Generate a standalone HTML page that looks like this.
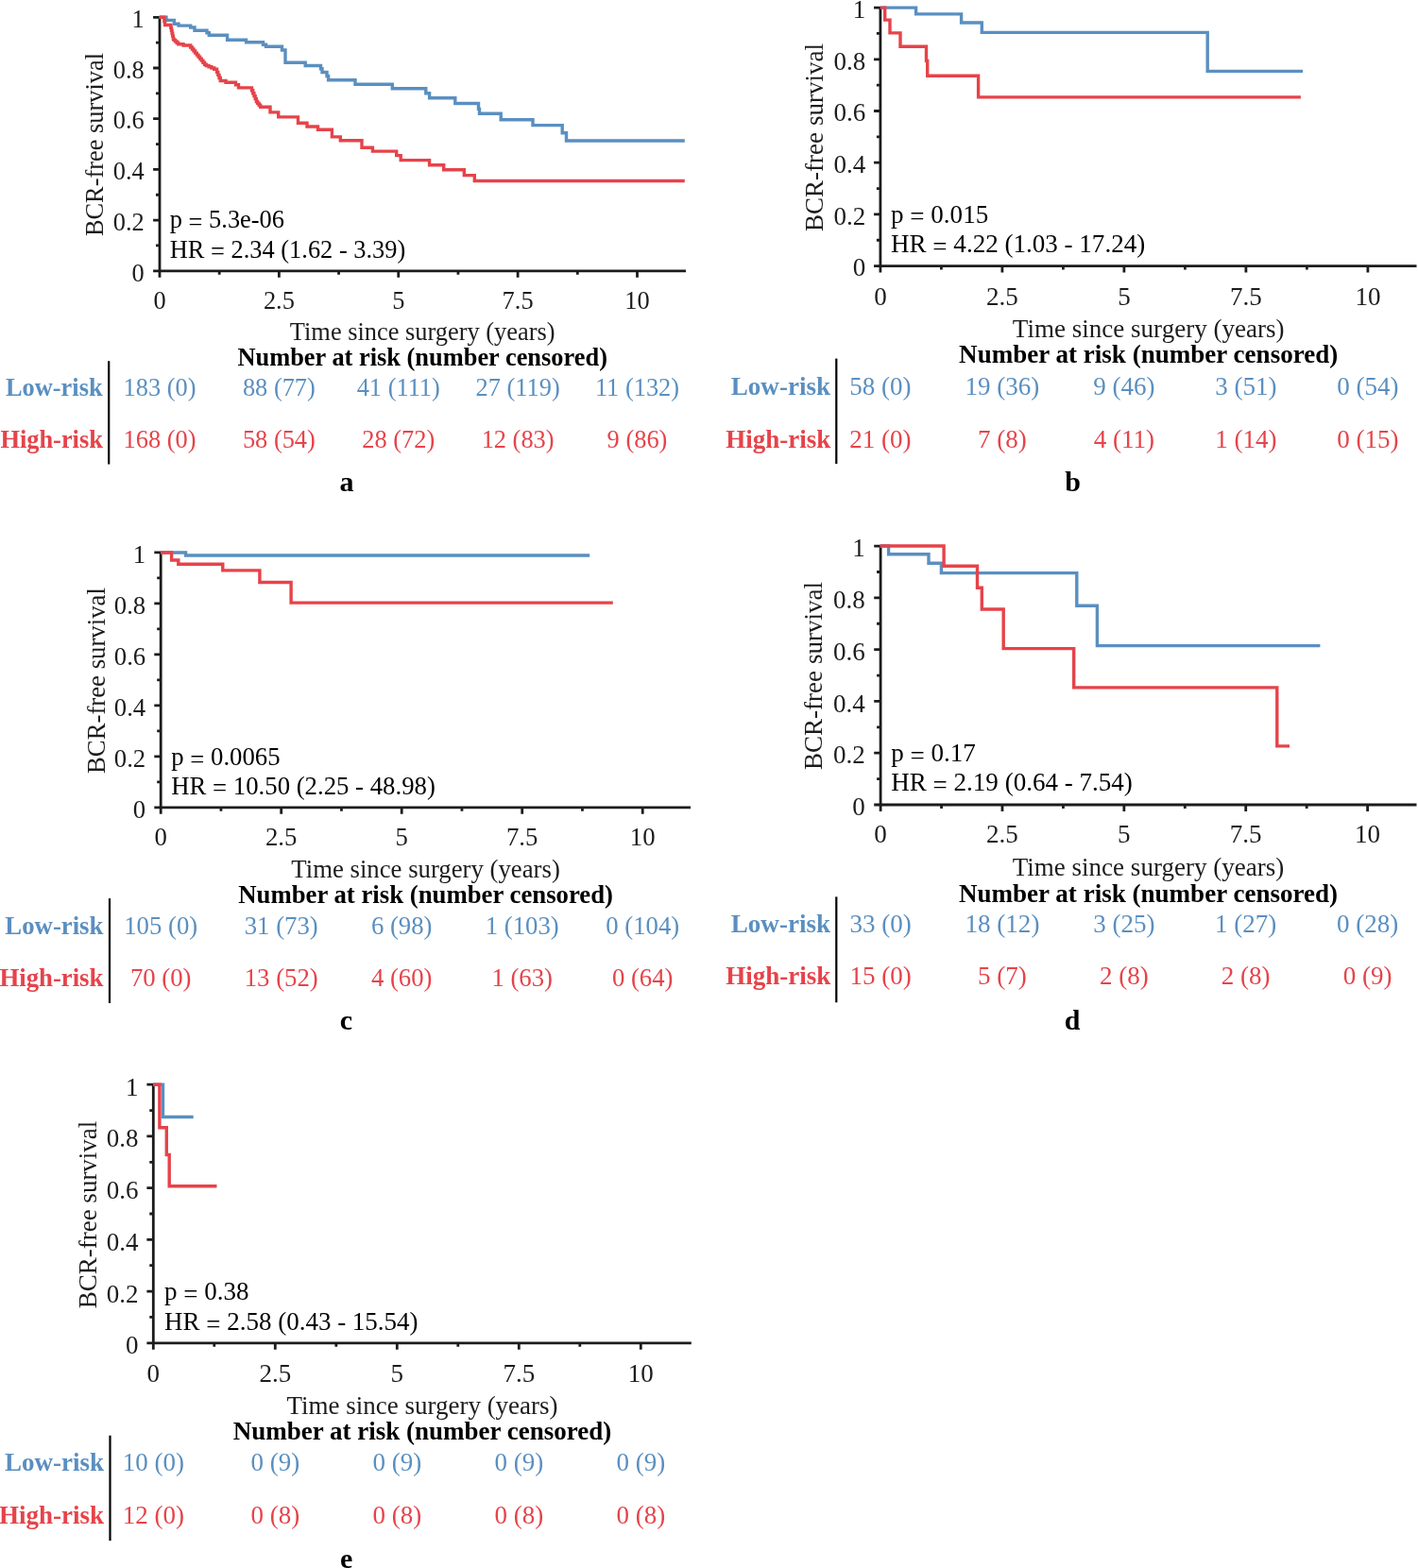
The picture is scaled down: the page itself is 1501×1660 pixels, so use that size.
<!DOCTYPE html>
<html><head><meta charset="utf-8"><title>Kaplan-Meier BCR-free survival</title>
<style>
html,body{margin:0;padding:0;background:#fff;}
body{width:1501px;height:1660px;overflow:hidden;}
svg{display:block;}
svg text{font-family:"Liberation Serif","Times New Roman",serif;}
</style></head><body>
<svg width="1501" height="1660" viewBox="0 0 1501 1660">
<rect width="1501" height="1660" fill="#fff"/>
<g id="panel-a"><path d="M169 18.3V286.8H726M162.1 286.8H169M165 259.95H169M162.1 233.1H169M165 206.25H169M162.1 179.4H169M165 152.55H169M162.1 125.7H169M165 98.85H169M162.1 72H169M165 45.15H169M162.1 18.3H169M169 286.8V293.7M232.19 286.8V290.8M295.38 286.8V293.7M358.56 286.8V290.8M421.75 286.8V293.7M484.94 286.8V290.8M548.12 286.8V293.7M611.31 286.8V290.8M674.5 286.8V293.7" fill="none" stroke="#1c1c1c" stroke-width="2.8" stroke-linecap="butt"/>
<path d="M168.4 18.3H176V21.4H184.3V25.2H189V27.1H201.7V29H206V32.2H219V34.7H221.3V37.2H240.6V42.3H260.6V44.8H278.5V47.3H281.5V49.2H298.5V53H302V66.3H323.2V69.5H339.5V72.8H341V76.5H346V80.5H347.6V84.8H376V89.2H415.3V93.7H450.8V98.7H454.6V103.8H481.8V109.5H506.5V115.4H507.5V120.3H530.2V126.8H564V132.6H595.2V140.7H599.5V149H724.8" fill="none" stroke="#5a8fc0" stroke-width="3.4" stroke-linejoin="miter"/>
<path d="M169 18.3H173.9V22.7H174.6V26.5H180.8V29.4H181.44V32.3H182.08V35.2H182.72V38.1H183.36V41H184V42.42H185.57V43.85H187.15V45.28H188.73V46.7H194.1V48H201.7V50.02H203.35V52.04H205V54.06H206.65V56.08H208.3V58.1H209.95V60.12H211.6V62.14H213.25V64.16H214.9V66.18H216.55V68.2H218.2V69.47H221.05V70.75H223.9V72.03H226.75V73.3H229.6V76.35H230.82V79.4H232.05V82.45H233.28V85.5H239V87.2H249.5V89.7H252.5V92.9H266.5V95.82H267.72V98.74H268.94V101.66H270.16V104.58H271.38V107.5H272.6V109.4H274.13V111.3H275.67V113.2H286V118.9H294.7V123.9H315.5V130.3H325V134H336.5V137.3H351.4V144.9H360.3V148.7H383V156.3H394.4V160.1H419.7V164.6H424.2V169.6H454.6V174.7H469.7V179.7H491.3V185.6H502.3V191.5H724.8" fill="none" stroke="#e6434a" stroke-width="3.4" stroke-linejoin="miter"/>
<g font-size="26.4" fill="#1c1c1c"><text x="152.7" y="297.5" text-anchor="end">0</text><text x="152.7" y="243.8" text-anchor="end">0.2</text><text x="152.7" y="190.1" text-anchor="end">0.4</text><text x="152.7" y="136.4" text-anchor="end">0.6</text><text x="152.7" y="82.7" text-anchor="end">0.8</text><text x="152.7" y="29" text-anchor="end">1</text><text x="169" y="326.7" text-anchor="middle">0</text><text x="295.38" y="326.7" text-anchor="middle">2.5</text><text x="421.75" y="326.7" text-anchor="middle">5</text><text x="548.12" y="326.7" text-anchor="middle">7.5</text><text x="674.5" y="326.7" text-anchor="middle">10</text><text x="447.2" y="360.2" text-anchor="middle">Time since surgery (years)</text><text transform="translate(108.9 153) rotate(-90)" x="0" y="0" text-anchor="middle">BCR-free survival</text><text x="179.8" y="241.3" fill="#000">p <tspan dy="2.6">=</tspan><tspan dy="-2.6"> 5.3e-06</tspan></text><text x="179.8" y="272.5" fill="#000">HR <tspan dy="2.6">=</tspan><tspan dy="-2.6"> 2.34 (1.62 - 3.39)</tspan></text></g>
<g font-size="26.4"><text x="447.2" y="386.5" text-anchor="middle" font-weight="bold" fill="#000">Number at risk (number censored)</text><text x="108.6" y="418.6" text-anchor="end" font-weight="bold" fill="#5a8fc0">Low-risk</text><text x="108.9" y="473.8" text-anchor="end" font-weight="bold" fill="#e6434a">High-risk</text><text x="169" y="418.6" text-anchor="middle" fill="#5a8fc0">183 (0)</text><text x="169" y="473.8" text-anchor="middle" fill="#e6434a">168 (0)</text><text x="295.38" y="418.6" text-anchor="middle" fill="#5a8fc0">88 (77)</text><text x="295.38" y="473.8" text-anchor="middle" fill="#e6434a">58 (54)</text><text x="421.75" y="418.6" text-anchor="middle" fill="#5a8fc0">41 (111)</text><text x="421.75" y="473.8" text-anchor="middle" fill="#e6434a">28 (72)</text><text x="548.12" y="418.6" text-anchor="middle" fill="#5a8fc0">27 (119)</text><text x="548.12" y="473.8" text-anchor="middle" fill="#e6434a">12 (83)</text><text x="674.5" y="418.6" text-anchor="middle" fill="#5a8fc0">11 (132)</text><text x="674.5" y="473.8" text-anchor="middle" fill="#e6434a">9 (86)</text></g>
<path d="M115.2 382.2V491.5" stroke="#000" stroke-width="2.2"/>
<text x="367" y="520" text-anchor="middle" font-weight="bold" font-size="30" fill="#000">a</text></g>
<g id="panel-b"><path d="M931.9 8.1V281.6H1499.5M925 281.6H931.9M927.9 254.25H931.9M925 226.9H931.9M927.9 199.55H931.9M925 172.2H931.9M927.9 144.85H931.9M925 117.5H931.9M927.9 90.15H931.9M925 62.8H931.9M927.9 35.45H931.9M925 8.1H931.9M931.9 281.6V288.5M996.4 281.6V285.6M1060.9 281.6V288.5M1125.4 281.6V285.6M1189.9 281.6V288.5M1254.4 281.6V285.6M1318.9 281.6V288.5M1383.4 281.6V285.6M1447.9 281.6V288.5" fill="none" stroke="#1c1c1c" stroke-width="2.8" stroke-linecap="butt"/>
<path d="M931.9 8.1H969.6V14.9H1017.6V24H1039.3V34.4H1278.2V75.4H1379.1" fill="none" stroke="#5a8fc0" stroke-width="3.4" stroke-linejoin="miter"/>
<path d="M931.9 8.1H936.7V21.1H942V34.9H953V49.3H980.5V64.4H981.7V80.2H1035.6V102.9H1376.9" fill="none" stroke="#e6434a" stroke-width="3.4" stroke-linejoin="miter"/>
<g font-size="27.05" fill="#1c1c1c"><text x="916.2" y="292.34" text-anchor="end">0</text><text x="916.2" y="237.64" text-anchor="end">0.2</text><text x="916.2" y="182.94" text-anchor="end">0.4</text><text x="916.2" y="128.24" text-anchor="end">0.6</text><text x="916.2" y="73.54" text-anchor="end">0.8</text><text x="916.2" y="18.84" text-anchor="end">1</text><text x="931.9" y="322.7" text-anchor="middle">0</text><text x="1060.9" y="322.7" text-anchor="middle">2.5</text><text x="1189.9" y="322.7" text-anchor="middle">5</text><text x="1318.9" y="322.7" text-anchor="middle">7.5</text><text x="1447.9" y="322.7" text-anchor="middle">10</text><text x="1215.7" y="357" text-anchor="middle">Time since surgery (years)</text><text transform="translate(870.7 145.5) rotate(-90)" x="0" y="0" text-anchor="middle">BCR-free survival</text><text x="943" y="235.8" fill="#000">p <tspan dy="2.6">=</tspan><tspan dy="-2.6"> 0.015</tspan></text><text x="943" y="267.1" fill="#000">HR <tspan dy="2.6">=</tspan><tspan dy="-2.6"> 4.22 (1.03 - 17.24)</tspan></text></g>
<g font-size="27.05"><text x="1215.7" y="384" text-anchor="middle" font-weight="bold" fill="#000">Number at risk (number censored)</text><text x="879" y="417.6" text-anchor="end" font-weight="bold" fill="#5a8fc0">Low-risk</text><text x="879.4" y="473.5" text-anchor="end" font-weight="bold" fill="#e6434a">High-risk</text><text x="931.9" y="417.6" text-anchor="middle" fill="#5a8fc0">58 (0)</text><text x="931.9" y="473.5" text-anchor="middle" fill="#e6434a">21 (0)</text><text x="1060.9" y="417.6" text-anchor="middle" fill="#5a8fc0">19 (36)</text><text x="1060.9" y="473.5" text-anchor="middle" fill="#e6434a">7 (8)</text><text x="1189.9" y="417.6" text-anchor="middle" fill="#5a8fc0">9 (46)</text><text x="1189.9" y="473.5" text-anchor="middle" fill="#e6434a">4 (11)</text><text x="1318.9" y="417.6" text-anchor="middle" fill="#5a8fc0">3 (51)</text><text x="1318.9" y="473.5" text-anchor="middle" fill="#e6434a">1 (14)</text><text x="1447.9" y="417.6" text-anchor="middle" fill="#5a8fc0">0 (54)</text><text x="1447.9" y="473.5" text-anchor="middle" fill="#e6434a">0 (15)</text></g>
<path d="M885.3 379.6V491" stroke="#000" stroke-width="2.2"/>
<text x="1135.6" y="519.5" text-anchor="middle" font-weight="bold" font-size="30" fill="#000">b</text></g>
<g id="panel-c"><path d="M170.2 584.8V854.8H731M163.3 854.8H170.2M166.2 827.8H170.2M163.3 800.8H170.2M166.2 773.8H170.2M163.3 746.8H170.2M166.2 719.8H170.2M163.3 692.8H170.2M166.2 665.8H170.2M163.3 638.8H170.2M166.2 611.8H170.2M163.3 584.8H170.2M170.2 854.8V861.7M233.95 854.8V858.8M297.7 854.8V861.7M361.45 854.8V858.8M425.2 854.8V861.7M488.95 854.8V858.8M552.7 854.8V861.7M616.45 854.8V858.8M680.2 854.8V861.7" fill="none" stroke="#1c1c1c" stroke-width="2.8" stroke-linecap="butt"/>
<path d="M170.2 585H196.6V588H624.2" fill="none" stroke="#5a8fc0" stroke-width="3.4" stroke-linejoin="miter"/>
<path d="M170.2 585H181.6V593H188.8V597.3H235.8V603.9H274.9V616.5H308.1V638.1H648.8" fill="none" stroke="#e6434a" stroke-width="3.4" stroke-linejoin="miter"/>
<g font-size="26.75" fill="#1c1c1c"><text x="154.2" y="866.18" text-anchor="end">0</text><text x="154.2" y="812.18" text-anchor="end">0.2</text><text x="154.2" y="758.18" text-anchor="end">0.4</text><text x="154.2" y="704.18" text-anchor="end">0.6</text><text x="154.2" y="650.18" text-anchor="end">0.8</text><text x="154.2" y="596.18" text-anchor="end">1</text><text x="170.2" y="895.4" text-anchor="middle">0</text><text x="297.7" y="895.4" text-anchor="middle">2.5</text><text x="425.2" y="895.4" text-anchor="middle">5</text><text x="552.7" y="895.4" text-anchor="middle">7.5</text><text x="680.2" y="895.4" text-anchor="middle">10</text><text x="450.6" y="928.9" text-anchor="middle">Time since surgery (years)</text><text transform="translate(110.7 720.6) rotate(-90)" x="0" y="0" text-anchor="middle">BCR-free survival</text><text x="181.2" y="809.9" fill="#000">p <tspan dy="2.6">=</tspan><tspan dy="-2.6"> 0.0065</tspan></text><text x="181.2" y="840.7" fill="#000">HR <tspan dy="2.6">=</tspan><tspan dy="-2.6"> 10.50 (2.25 - 48.98)</tspan></text></g>
<g font-size="26.75"><text x="450.6" y="955.7" text-anchor="middle" font-weight="bold" fill="#000">Number at risk (number censored)</text><text x="109.4" y="988.6" text-anchor="end" font-weight="bold" fill="#5a8fc0">Low-risk</text><text x="109.4" y="1043.5" text-anchor="end" font-weight="bold" fill="#e6434a">High-risk</text><text x="170.2" y="988.6" text-anchor="middle" fill="#5a8fc0">105 (0)</text><text x="170.2" y="1043.5" text-anchor="middle" fill="#e6434a">70 (0)</text><text x="297.7" y="988.6" text-anchor="middle" fill="#5a8fc0">31 (73)</text><text x="297.7" y="1043.5" text-anchor="middle" fill="#e6434a">13 (52)</text><text x="425.2" y="988.6" text-anchor="middle" fill="#5a8fc0">6 (98)</text><text x="425.2" y="1043.5" text-anchor="middle" fill="#e6434a">4 (60)</text><text x="552.7" y="988.6" text-anchor="middle" fill="#5a8fc0">1 (103)</text><text x="552.7" y="1043.5" text-anchor="middle" fill="#e6434a">1 (63)</text><text x="680.2" y="988.6" text-anchor="middle" fill="#5a8fc0">0 (104)</text><text x="680.2" y="1043.5" text-anchor="middle" fill="#e6434a">0 (64)</text></g>
<path d="M116 951.1V1062" stroke="#000" stroke-width="2.2"/>
<text x="366.5" y="1089.5" text-anchor="middle" font-weight="bold" font-size="30" fill="#000">c</text></g>
<g id="panel-d"><path d="M932.1 578.1V852H1499.5M925.2 852H932.1M928.1 824.61H932.1M925.2 797.22H932.1M928.1 769.83H932.1M925.2 742.44H932.1M928.1 715.05H932.1M925.2 687.66H932.1M928.1 660.27H932.1M925.2 632.88H932.1M928.1 605.49H932.1M925.2 578.1H932.1M932.1 852V858.9M996.54 852V856M1060.97 852V858.9M1125.41 852V856M1189.85 852V858.9M1254.29 852V856M1318.72 852V858.9M1383.16 852V856M1447.6 852V858.9" fill="none" stroke="#1c1c1c" stroke-width="2.8" stroke-linecap="butt"/>
<path d="M931.7 578H940.6V586.7H983V596.2H996.4V606.6H1139.8V641.2H1161.4V683.6H1397.4" fill="none" stroke="#5a8fc0" stroke-width="3.4" stroke-linejoin="miter"/>
<path d="M931.7 578H999.1V599.3H1034.5V622.2H1039.3V645H1062.2V686.6H1136.7V727.9H1351.8V789.9H1365" fill="none" stroke="#e6434a" stroke-width="3.4" stroke-linejoin="miter"/>
<g font-size="27.05" fill="#1c1c1c"><text x="915.8" y="863.19" text-anchor="end">0</text><text x="915.8" y="808.41" text-anchor="end">0.2</text><text x="915.8" y="753.63" text-anchor="end">0.4</text><text x="915.8" y="698.85" text-anchor="end">0.6</text><text x="915.8" y="644.07" text-anchor="end">0.8</text><text x="915.8" y="589.29" text-anchor="end">1</text><text x="932.1" y="892.2" text-anchor="middle">0</text><text x="1060.97" y="892.2" text-anchor="middle">2.5</text><text x="1189.85" y="892.2" text-anchor="middle">5</text><text x="1318.72" y="892.2" text-anchor="middle">7.5</text><text x="1447.6" y="892.2" text-anchor="middle">10</text><text x="1215.5" y="926.8" text-anchor="middle">Time since surgery (years)</text><text transform="translate(869.9 715.5) rotate(-90)" x="0" y="0" text-anchor="middle">BCR-free survival</text><text x="943.2" y="806.1" fill="#000">p <tspan dy="2.6">=</tspan><tspan dy="-2.6"> 0.17</tspan></text><text x="943.2" y="837" fill="#000">HR <tspan dy="2.6">=</tspan><tspan dy="-2.6"> 2.19 (0.64 - 7.54)</tspan></text></g>
<g font-size="27.05"><text x="1215.5" y="954.7" text-anchor="middle" font-weight="bold" fill="#000">Number at risk (number censored)</text><text x="879" y="987.2" text-anchor="end" font-weight="bold" fill="#5a8fc0">Low-risk</text><text x="879.4" y="1042" text-anchor="end" font-weight="bold" fill="#e6434a">High-risk</text><text x="932.1" y="987.2" text-anchor="middle" fill="#5a8fc0">33 (0)</text><text x="932.1" y="1042" text-anchor="middle" fill="#e6434a">15 (0)</text><text x="1060.97" y="987.2" text-anchor="middle" fill="#5a8fc0">18 (12)</text><text x="1060.97" y="1042" text-anchor="middle" fill="#e6434a">5 (7)</text><text x="1189.85" y="987.2" text-anchor="middle" fill="#5a8fc0">3 (25)</text><text x="1189.85" y="1042" text-anchor="middle" fill="#e6434a">2 (8)</text><text x="1318.72" y="987.2" text-anchor="middle" fill="#5a8fc0">1 (27)</text><text x="1318.72" y="1042" text-anchor="middle" fill="#e6434a">2 (8)</text><text x="1447.6" y="987.2" text-anchor="middle" fill="#5a8fc0">0 (28)</text><text x="1447.6" y="1042" text-anchor="middle" fill="#e6434a">0 (9)</text></g>
<path d="M885.3 949.4V1061.3" stroke="#000" stroke-width="2.2"/>
<text x="1135.2" y="1089.8" text-anchor="middle" font-weight="bold" font-size="30" fill="#000">d</text></g>
<g id="panel-e"><path d="M162.3 1148.2V1421.8H731.8M155.4 1421.8H162.3M158.3 1394.44H162.3M155.4 1367.08H162.3M158.3 1339.72H162.3M155.4 1312.36H162.3M158.3 1285H162.3M155.4 1257.64H162.3M158.3 1230.28H162.3M155.4 1202.92H162.3M158.3 1175.56H162.3M155.4 1148.2H162.3M162.3 1421.8V1428.7M226.8 1421.8V1425.8M291.3 1421.8V1428.7M355.8 1421.8V1425.8M420.3 1421.8V1428.7M484.8 1421.8V1425.8M549.3 1421.8V1428.7M613.8 1421.8V1425.8M678.3 1421.8V1428.7" fill="none" stroke="#1c1c1c" stroke-width="2.8" stroke-linecap="butt"/>
<path d="M162.3 1148.3H172.5V1182.5H204.7" fill="none" stroke="#5a8fc0" stroke-width="3.4" stroke-linejoin="miter"/>
<path d="M162.3 1148.3H168.9V1193.8H176.3V1222.5H179.2V1255.7H229.5" fill="none" stroke="#e6434a" stroke-width="3.4" stroke-linejoin="miter"/>
<g font-size="27.0" fill="#1c1c1c"><text x="146.6" y="1433.27" text-anchor="end">0</text><text x="146.6" y="1378.55" text-anchor="end">0.2</text><text x="146.6" y="1323.83" text-anchor="end">0.4</text><text x="146.6" y="1269.11" text-anchor="end">0.6</text><text x="146.6" y="1214.39" text-anchor="end">0.8</text><text x="146.6" y="1159.67" text-anchor="end">1</text><text x="162.3" y="1462.8" text-anchor="middle">0</text><text x="291.3" y="1462.8" text-anchor="middle">2.5</text><text x="420.3" y="1462.8" text-anchor="middle">5</text><text x="549.3" y="1462.8" text-anchor="middle">7.5</text><text x="678.3" y="1462.8" text-anchor="middle">10</text><text x="447" y="1496.5" text-anchor="middle">Time since surgery (years)</text><text transform="translate(101.7 1286) rotate(-90)" x="0" y="0" text-anchor="middle">BCR-free survival</text><text x="173.9" y="1376" fill="#000">p <tspan dy="2.6">=</tspan><tspan dy="-2.6"> 0.38</tspan></text><text x="173.9" y="1408" fill="#000">HR <tspan dy="2.6">=</tspan><tspan dy="-2.6"> 2.58 (0.43 - 15.54)</tspan></text></g>
<g font-size="27.0"><text x="447" y="1523.5" text-anchor="middle" font-weight="bold" fill="#000">Number at risk (number censored)</text><text x="110.1" y="1557" text-anchor="end" font-weight="bold" fill="#5a8fc0">Low-risk</text><text x="110.1" y="1612.9" text-anchor="end" font-weight="bold" fill="#e6434a">High-risk</text><text x="162.3" y="1557" text-anchor="middle" fill="#5a8fc0">10 (0)</text><text x="162.3" y="1612.9" text-anchor="middle" fill="#e6434a">12 (0)</text><text x="291.3" y="1557" text-anchor="middle" fill="#5a8fc0">0 (9)</text><text x="291.3" y="1612.9" text-anchor="middle" fill="#e6434a">0 (8)</text><text x="420.3" y="1557" text-anchor="middle" fill="#5a8fc0">0 (9)</text><text x="420.3" y="1612.9" text-anchor="middle" fill="#e6434a">0 (8)</text><text x="549.3" y="1557" text-anchor="middle" fill="#5a8fc0">0 (9)</text><text x="549.3" y="1612.9" text-anchor="middle" fill="#e6434a">0 (8)</text><text x="678.3" y="1557" text-anchor="middle" fill="#5a8fc0">0 (9)</text><text x="678.3" y="1612.9" text-anchor="middle" fill="#e6434a">0 (8)</text></g>
<path d="M116.5 1519.7V1631.1" stroke="#000" stroke-width="2.2"/>
<text x="366.6" y="1660.2" text-anchor="middle" font-weight="bold" font-size="30" fill="#000">e</text></g>
</svg>
</body></html>
